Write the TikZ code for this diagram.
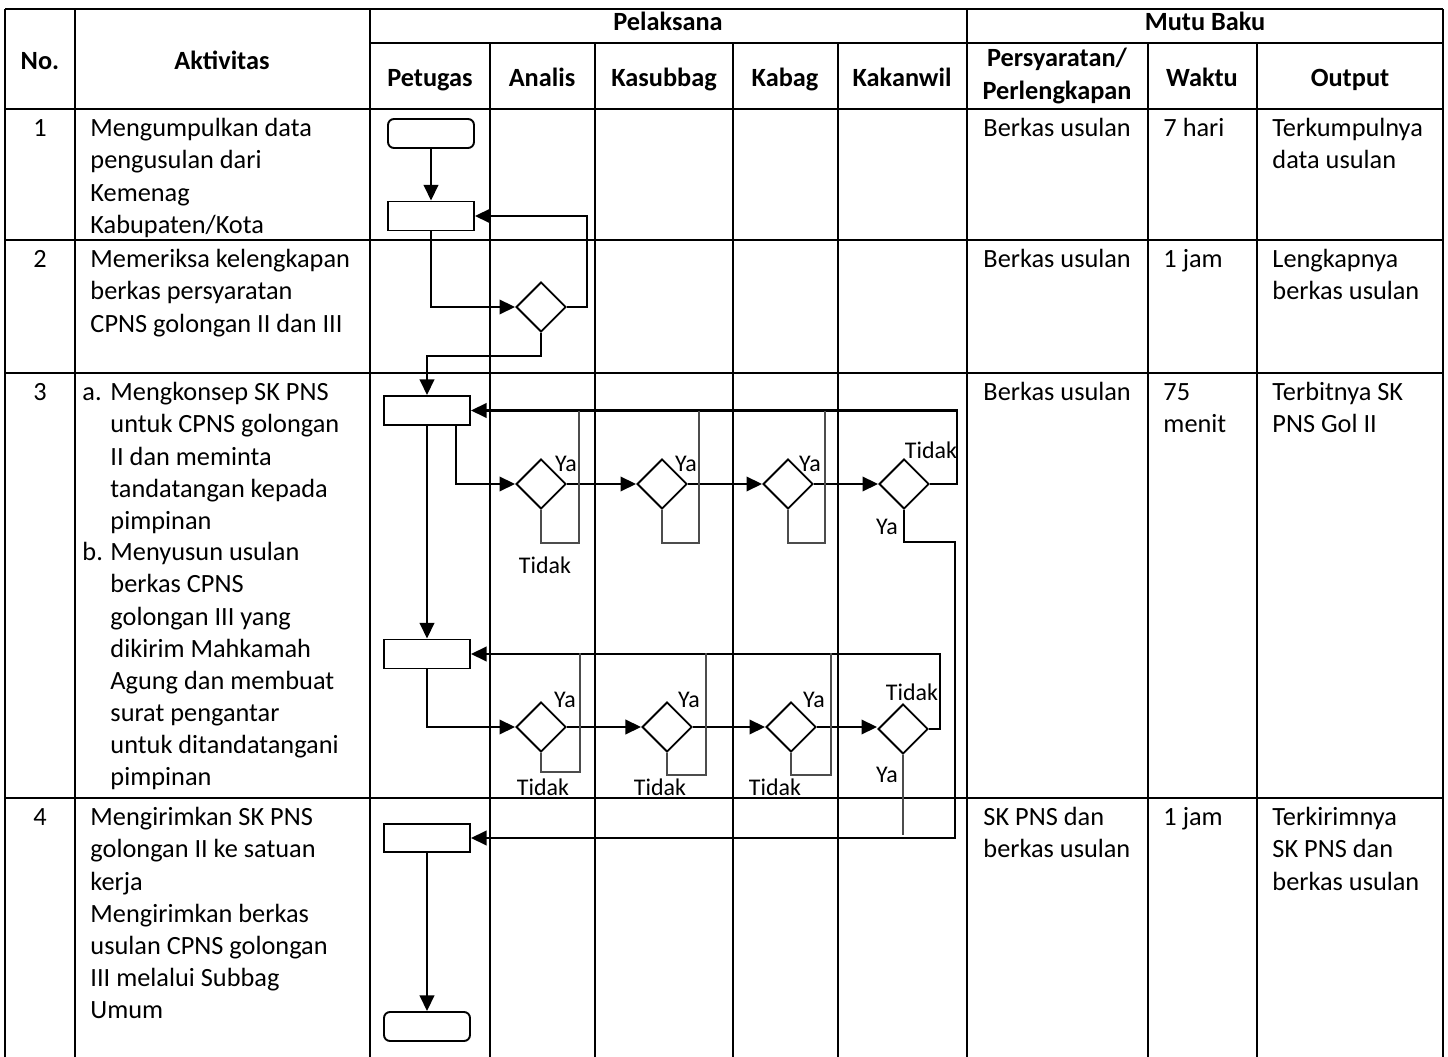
\documentclass[tikz,border=0pt]{standalone}
\usepackage{fontspec}
\setmainfont{Carlito}
\usetikzlibrary{arrows.meta,shapes.geometric}
\begin{document}
\begin{tikzpicture}[x=0.418pt,y=-0.418pt,
  grid/.style={line width=1pt},
  flow/.style={line width=1.1pt},
  thinl/.style={line width=0.5pt, draw=black!70},
  arr/.style={flow,-{Triangle[length=6.5pt,width=6pt]}},
  box/.style={draw, line width=0.8pt, minimum width=86*0.418pt, minimum height=29*0.418pt, inner sep=0},
  term/.style={box, rounded corners=2.5pt},
  dec/.style={diamond, draw, line width=0.8pt, minimum width=50*0.418pt, minimum height=50*0.418pt, inner sep=0},
  txt/.style={inner sep=0, anchor=north west, align=left, font=\fontsize{11}{13.4}\selectfont},
  hdr/.style={inner sep=0, align=center, font=\fontsize{11}{13.4}\selectfont\bfseries},
  hdrb/.style={hdr, anchor=base},
  lbl/.style={inner sep=0, font=\fontsize{10}{12}\selectfont}
]
\useasboundingbox (0,0) rectangle (1448,1057);
% ---------- table grid ----------
\draw[grid] (5,9) -- (1443,9);
\draw[grid] (370,43) -- (1443,43);
\foreach \y in {109,240,373,798} \draw[grid] (5,\y) -- (1443,\y);
\foreach \x in {5,75,370,967,1443} \draw[grid] (\x,9) -- (\x,1057);
\foreach \x in {490,595,733,838,1148,1257} \draw[grid] (\x,43) -- (\x,1057);
% ---------- headers ----------
\node[hdrb] (hNo) at (40,70) {No.};
\node[hdrb] (hAkt) at (222,70) {Aktivitas};
\node[hdrb] (hPel) at (668,31) {Pelaksana};
\node[hdrb] (hMut) at (1205,31) {Mutu Baku};
\node[hdrb] (hPet) at (430,87) {Petugas};
\node[hdrb] (hAna) at (542,87) {Analis};
\node[hdrb] (hKas) at (664,87) {Kasubbag};
\node[hdrb] (hKab) at (785,87) {Kabag};
\node[hdrb] (hKak) at (902,87) {Kakanwil};
\node[hdr] (hPer) at (1057,76) {Persyaratan/\\Perlengkapan};
\node[hdrb] (hWak) at (1202,87) {Waktu};
\node[hdrb] (hOut) at (1350,87) {Output};
% ---------- row texts ----------
\node[txt,anchor=north] (n1) at (40,114) {\strut 1};
\node[txt,anchor=north] (n2) at (40,245) {\strut 2};
\node[txt,anchor=north] (n3) at (40,378) {\strut 3};
\node[txt,anchor=north] (n4) at (40,803) {\strut 4};
\node[txt] (a1) at (90,114) {\strut Mengumpulkan data\\pengusulan dari\\Kemenag\\Kabupaten/Kota};
\node[txt] (a2) at (90,245) {\strut Memeriksa kelengkapan\\berkas persyaratan\\CPNS golongan II dan III};
\node[txt] (a3a) at (82,378) {\strut a.};
\node[txt] (a3) at (110,378) {\strut Mengkonsep SK PNS\\untuk CPNS golongan\\II dan meminta\\tandatangan kepada\\pimpinan};
\node[txt] (a3b) at (82,538) {\strut b.};
\node[txt] (a3c) at (110,538) {\strut Menyusun usulan\\berkas CPNS\\golongan III yang\\dikirim Mahkamah\\Agung dan membuat\\surat pengantar\\untuk ditandatangani\\pimpinan};
\node[txt] (a4) at (90,803) {\strut Mengirimkan SK PNS\\golongan II ke satuan\\kerja\\Mengirimkan berkas\\usulan CPNS golongan\\III melalui Subbag\\Umum};
\node[txt] (p1) at (983,114) {\strut Berkas usulan};
\node[txt] (p2) at (983,245) {\strut Berkas usulan};
\node[txt] (p3) at (983,378) {\strut Berkas usulan};
\node[txt] (p4) at (983,803) {\strut SK PNS dan\\berkas usulan};
\node[txt] (w1) at (1163,114) {\strut 7 hari};
\node[txt] (w2) at (1163,245) {\strut 1 jam};
\node[txt] (w3) at (1163,378) {\strut 75\\menit};
\node[txt] (w4) at (1163,803) {\strut 1 jam};
\node[txt] (o1) at (1272,114) {\strut Terkumpulnya\\data usulan};
\node[txt] (o2) at (1272,245) {\strut Lengkapnya\\berkas usulan};
\node[txt] (o3) at (1272,378) {\strut Terbitnya SK\\PNS Gol II};
\node[txt] (o4) at (1272,803) {\strut Terkirimnya\\SK PNS dan\\berkas usulan};
% ---------- flow shapes ----------
\node[term] (t1) at (431,133.5) {};
\node[box] (b1) at (431,216) {};
\node[dec] (q0) at (541,307) {};
\node[box] (b2) at (427,410.5) {};
\node[dec] (d1) at (541,484) {};
\node[dec] (d2) at (662,484) {};
\node[dec] (d3) at (788,484) {};
\node[dec] (d4) at (904,484) {};
\node[box] (b3) at (427,654) {};
\node[dec] (e1) at (541,727) {};
\node[dec] (e2) at (667,727) {};
\node[dec] (e3) at (791,727) {};
\node[dec] (e4) at (903,729) {};
\node[box,minimum height=28*0.418pt] (b4) at (427,838) {};
\node[term] (t2) at (427,1026.5) {};
\coordinate (s2) at (443,425);
% ---------- connectors ----------
\draw[arr] (t1) -- (b1);
\draw[arr] (b1.south) |- (q0.west);
\draw[arr] (q0.east) -- (587,307) |- (b1.east);
\draw[arr] (q0.south) -- (541,356) -| (b2.north);
\draw[arr] (b2) -- (b3);
\draw[arr] (s2) -- (456,425) |- (d1.west);
\draw[arr] (d1) -- (d2);
\draw[arr] (d2) -- (d3);
\draw[arr] (d3) -- (d4);
\draw[arr] (d4.east) -- (957,484) |- (b2.east);
\draw[arr] (d4.south) -- (904,542) -- (955,542) |- (b4.east);
\draw[thinl] (d1.south) -- (541,543) -- (579,543) -- (579,411);
\draw[thinl] (d2.south) -- (662,543) -- (699,543) -- (699,411);
\draw[thinl] (d3.south) -- (788,543) -- (825,543) -- (825,411);
\draw[arr] (b3.south) |- (e1.west);
\draw[arr] (e1) -- (e2);
\draw[arr] (e2) -- (e3);
\draw[arr] (e3.east) -- (e3.east -| e4.west);
\draw[arr] (e4.east) -- (940,729) |- (b3.east);
\draw[thinl] (e1.south) -- (541,772) -- (580,772) -- (580,653);
\draw[thinl] (e2.south) -- (667,775) -- (706,775) -- (706,653);
\draw[thinl] (e3.south) -- (791,775) -- (831,775) -- (831,653);
\draw[thinl] (e4.south) -- (903,835);
\draw[arr] (b4) -- (t2);
% ---------- labels ----------
\node[lbl] (ly1) at (566,464) {Ya};
\node[lbl] (ly2) at (686,464) {Ya};
\node[lbl] (ly3) at (810,464) {Ya};
\node[lbl] (lt1) at (545,565) {Tidak};
\node[lbl] (lt4) at (931,450) {Tidak};
\node[lbl] (ly4) at (887,527) {Ya};
\node[lbl] (my1) at (565,700) {Ya};
\node[lbl] (my2) at (689,700) {Ya};
\node[lbl] (my3) at (814,700) {Ya};
\node[lbl] (mt1) at (543,787) {Tidak};
\node[lbl] (mt2) at (660,787) {Tidak};
\node[lbl] (mt3) at (775,787) {Tidak};
\node[lbl] (mt4) at (912,692) {Tidak};
\node[lbl] (my4) at (887,775) {Ya};
\end{tikzpicture}
\end{document}
